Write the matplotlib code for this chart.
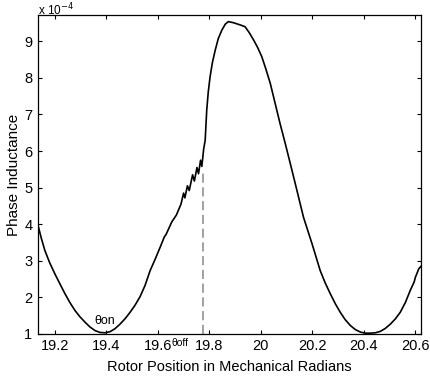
import matplotlib
matplotlib.use("Agg")
from matplotlib import pyplot as plt

plt.rcParams['font.family'] = ['Liberation Sans', 'DejaVu Sans']

# rotor position (mech. rad) and phase inductance (x 1e-4 H)
theta = [19.133, 19.147, 19.161, 19.180, 19.200, 19.220, 19.239, 19.258,
         19.278, 19.297, 19.317, 19.336, 19.356, 19.375, 19.395, 19.414,
         19.433, 19.452, 19.472, 19.491, 19.511, 19.531, 19.550, 19.570,
         19.590, 19.609, 19.625, 19.632, 19.654, 19.672, 19.690, 19.700,
         19.705, 19.715, 19.722, 19.735, 19.742, 19.752, 19.758, 19.766,
         19.771, 19.778, 19.784, 19.790, 19.796, 19.803, 19.812, 19.823,
         19.835, 19.849, 19.862, 19.874, 19.894, 19.920, 19.939, 19.955,
         19.972, 19.988, 20.004, 20.020, 20.037, 20.056, 20.075, 20.095,
         20.115, 20.134, 20.150, 20.166, 20.183, 20.199, 20.215, 20.231,
         20.250, 20.270, 20.290, 20.309, 20.328, 20.348, 20.367, 20.387,
         20.406, 20.426, 20.445, 20.465, 20.484, 20.504, 20.523, 20.542,
         20.562, 20.581, 20.596, 20.601, 20.614, 20.623]
inductance = [4.01, 3.62, 3.28, 2.94, 2.64, 2.36, 2.10, 1.86,
              1.64, 1.47, 1.32, 1.19, 1.09, 1.04, 1.03, 1.06,
              1.14, 1.26, 1.41, 1.58, 1.78, 2.02, 2.32, 2.73,
              3.05, 3.37, 3.65, 3.72, 4.06, 4.25, 4.55, 4.85,
              4.72, 5.05, 4.92, 5.35, 5.18, 5.55, 5.38, 5.75,
              5.58, 6.05, 6.30, 7.12, 7.62, 8.03, 8.42, 8.76,
              9.08, 9.31, 9.47, 9.54, 9.51, 9.45, 9.40, 9.24,
              9.04, 8.83, 8.58, 8.24, 7.85, 7.30, 6.75, 6.21,
              5.65, 5.11, 4.65, 4.19, 3.82, 3.47, 3.10, 2.73,
              2.40, 2.10, 1.82, 1.59, 1.39, 1.23, 1.12, 1.05,
              1.02, 1.02, 1.03, 1.07, 1.15, 1.27, 1.41, 1.59,
              1.86, 2.19, 2.42, 2.55, 2.78, 2.85]

theta_off = 19.777
x_ticks = [19.2, 19.4, 19.6, 19.8, 20.0, 20.2, 20.4, 20.6]
x_labels = ['19.2', '19.4', '19.6', '19.8', '20', '20.2', '20.4', '20.6']
y_ticks = [1, 2, 3, 4, 5, 6, 7, 8, 9]

fig = plt.figure(figsize=(4.31, 3.76), dpi=100)
ax = fig.add_axes([0.088, 0.112, 0.889, 0.848])

ax.plot(theta, inductance, color='black', lw=1.2)
ax.plot([theta_off, theta_off], [1, 5.4], color='#888888', lw=1.1,
        linestyle=(0, (6, 3)))

ax.set_xlim(19.134, 20.623)
ax.set_ylim(1, 9.72)
ax.set_xticks(x_ticks)
ax.set_xticklabels(x_labels)
ax.set_yticks(y_ticks)
ax.tick_params(direction='in', top=True, right=True, labelsize=10.5,
               length=3, width=0.8, pad=4)
for s in ax.spines.values():
    s.set_linewidth(0.9)

ax.set_xlabel('Rotor Position in Mechanical Radians', fontsize=10.5, labelpad=5)
ax.set_ylabel('Phase Inductance', fontsize=11, labelpad=2)
fig.text(0.088, 0.996, 'x 10$^{-4}$', fontsize=8.5, ha='left', va='top')

ax.text(19.395, 1.2, '\u03b8on', fontsize=9, ha='center', va='bottom')
ax.text(19.688, 0.76, '\u03b8off', fontsize=7.5, ha='center', va='center',
        clip_on=False)

fig.savefig('out.png', dpi=100)
